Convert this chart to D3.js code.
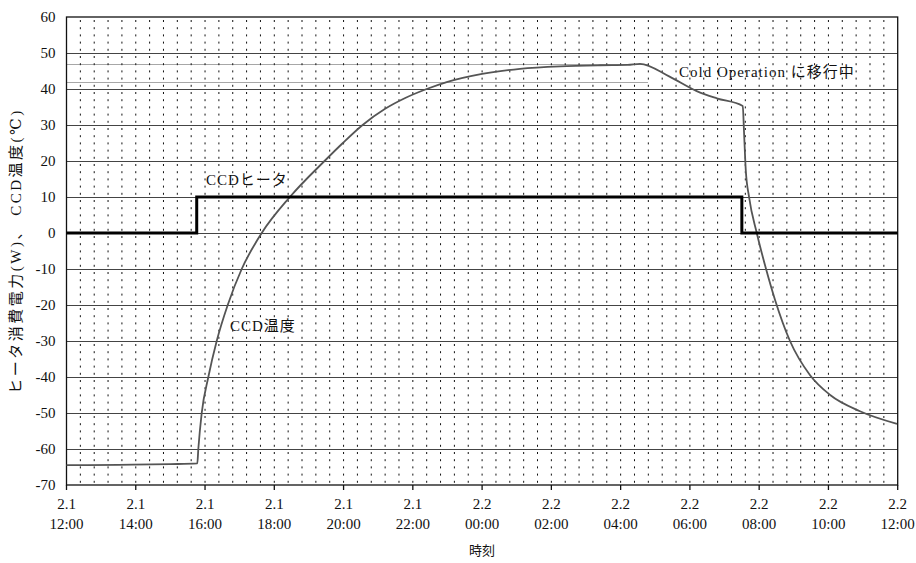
<!DOCTYPE html>
<html>
<head>
<meta charset="utf-8">
<script src="https://cdn.jsdelivr.net/npm/d3@7"></script>
<style>
  body { margin: 0; background: #fff; }
  svg text { fill: #111; }
</style>
</head>
<body>
<div id="chart"></div>
<script>
// hours since 2.1 12:00
var tickHours = [0, 2, 4, 6, 8, 10, 12, 14, 16, 18, 20, 22, 24];
var tickDays = ["2.1", "2.1", "2.1", "2.1", "2.1", "2.1", "2.2", "2.2", "2.2", "2.2", "2.2", "2.2", "2.2"];
var tickTimes = ["12:00", "14:00", "16:00", "18:00", "20:00", "22:00", "00:00", "02:00", "04:00", "06:00", "08:00", "10:00", "12:00"];
var yTicks = [60, 50, 40, 30, 20, 10, 0, -10, -20, -30, -40, -50, -60, -70];

// CCD heater power (W)
var heaterHours = [0, 3.76, 3.76, 19.5, 19.5, 24];
var heaterValues = [0, 0, 10, 10, 0, 0];

// CCD temperature (C)
var tempHours = [0, 1.5, 3.0, 3.777, 3.806, 3.904, 4.095, 4.337, 4.655, 5.059, 5.637, 6.45, 7.45, 7.98, 8.55, 9.2, 9.78, 10.4, 11.0, 12.0, 13.095, 14.25, 15.405, 16.2, 16.56, 17.4, 18.198, 18.775, 19.526, 19.563, 19.613, 19.708, 19.931, 20.199, 20.459, 20.89, 21.47, 22.05, 22.91, 23.98];
var tempValues = [-64.5, -64.4, -64.2, -64.0, -60, -50, -40, -30, -20, -10, 0, 10, 20, 25, 30, 34.5, 37.5, 40, 42, 44.2, 45.6, 46.3, 46.6, 46.7, 47.0, 43.5, 39.4, 37.4, 35.3, 28, 17.5, 10, 0, -10, -18.6, -30, -39.5, -45, -49.5, -53];

// dotted reference band (Cold Operation)
var bandValues = [47, 42];
var bandEndHour = 16.8;

var W = 916, H = 563;
var margin = {top: 17, right: 18.3, bottom: 78, left: 66.5};
var serif = "'Liberation Serif', 'DejaVu Serif', 'Times New Roman', 'Noto Sans CJK JP', serif";

var svg = d3.select("#chart").append("svg")
    .attr("width", W)
    .attr("height", H)
    .attr("font-family", serif);

var x = d3.scaleLinear().domain([0, 24]).range([margin.left, W - margin.right]);
var y = d3.scaleLinear().domain([-70, 60]).range([H - margin.bottom, margin.top]);

var g = svg.append("g");

//vertical dotted grid, 5 minor per 2h
var minorHours = d3.range(1, 60).map(function(i){ return i * 0.4; });
g.selectAll(".vgrid").data(minorHours).enter().append("line")
    .attr("class", "vgrid")
    .attr("x1", function(d){ return x(d); })
    .attr("x2", function(d){ return x(d); })
    .attr("y1", y(60) + 3)
    .attr("y2", y(-70))
    .attr("stroke", "#111")
    .attr("stroke-width", 1)
    .attr("stroke-dasharray", "2,5.2");

//horizontal solid grid
g.selectAll(".hgrid").data(yTicks.slice(1, -1)).enter().append("line")
    .attr("class", "hgrid")
    .attr("x1", x(0))
    .attr("x2", x(24))
    .attr("y1", function(d){ return Math.round(y(d)) + 0.5; })
    .attr("y2", function(d){ return Math.round(y(d)) + 0.5; })
    .attr("stroke", "#444")
    .attr("stroke-width", 1);

//dotted band lines
g.selectAll(".band").data(bandValues).enter().append("line")
    .attr("class", "band")
    .attr("x1", x(0))
    .attr("x2", x(bandEndHour))
    .attr("y1", function(d){ return Math.round(y(d)) + 0.5; })
    .attr("y2", function(d){ return Math.round(y(d)) + 0.5; })
    .attr("stroke", "#222")
    .attr("stroke-width", 0.8)
    .attr("stroke-dasharray", "1,1");

//plot border
g.append("rect")
    .attr("x", x(0))
    .attr("y", y(60))
    .attr("width", x(24) - x(0))
    .attr("height", y(-70) - y(60))
    .attr("fill", "none")
    .attr("stroke", "#111")
    .attr("stroke-width", 1.3);

//temperature curve
var tempLine = d3.line()
    .x(function(d){ return x(d[0]); })
    .y(function(d){ return y(d[1]); })
    .curve(d3.curveMonotoneX);

g.append("path")
    .datum(d3.zip(tempHours, tempValues))
    .attr("d", tempLine)
    .attr("fill", "none")
    .attr("stroke", "#555")
    .attr("stroke-width", 1.8);

//heater step line
var heaterLine = d3.line()
    .x(function(d){ return x(d[0]); })
    .y(function(d){ return y(d[1]); });

g.append("path")
    .datum(d3.zip(heaterHours, heaterValues))
    .attr("d", heaterLine)
    .attr("fill", "none")
    .attr("stroke", "#000")
    .attr("stroke-width", 3);

//x axis ticks and labels
var xAxis = g.append("g").attr("class", "x axis");
xAxis.selectAll("line").data(tickHours).enter().append("line")
    .attr("x1", function(d){ return x(d); })
    .attr("x2", function(d){ return x(d); })
    .attr("y1", y(-70))
    .attr("y2", y(-70) + 5)
    .attr("stroke", "#111")
    .attr("stroke-width", 1.3);

var xLabels = xAxis.selectAll("text").data(tickHours).enter().append("text")
    .attr("text-anchor", "middle")
    .style("font-size", "15px");
xLabels.append("tspan")
    .attr("x", function(d){ return x(d); })
    .attr("y", 509)
    .text(function(d, i){ return tickDays[i]; });
xLabels.append("tspan")
    .attr("x", function(d){ return x(d); })
    .attr("y", 529)
    .text(function(d, i){ return tickTimes[i]; });

//y tick labels
g.selectAll(".ylab").data(yTicks).enter().append("text")
    .attr("class", "ylab")
    .attr("x", 55.5)
    .attr("y", function(d){ return y(d); })
    .attr("dy", "0.35em")
    .attr("text-anchor", "end")
    .style("font-size", "15px")
    .text(function(d){ return d; });

//axis titles
svg.append("text")
    .attr("x", (x(0) + x(24)) / 2)
    .attr("y", 555)
    .attr("text-anchor", "middle")
    .style("font-size", "13px")
    .text("時刻");

svg.append("text")
    .attr("transform", "translate(21," + ((y(60) + y(-70)) / 2) + ") rotate(-90)")
    .attr("text-anchor", "middle")
    .style("font-size", "15px")
    .style("letter-spacing", "2.5px")
    .text("ヒータ消費電力(W)、 CCD温度(℃)");

//annotations
svg.append("text")
    .attr("x", 206)
    .attr("y", 180)
    .attr("dy", "0.35em")
    .style("font-size", "15px")
    .style("letter-spacing", "1px")
    .text("CCDヒータ");

svg.append("text")
    .attr("x", 230)
    .attr("y", 326)
    .attr("dy", "0.35em")
    .style("font-size", "15px")
    .style("letter-spacing", "1px")
    .text("CCD温度");

svg.append("text")
    .attr("x", 679)
    .attr("y", 71.5)
    .attr("dy", "0.35em")
    .style("font-size", "15px")
    .style("letter-spacing", "1px")
    .text("Cold Operation に移行中");
</script>
</body>
</html>
